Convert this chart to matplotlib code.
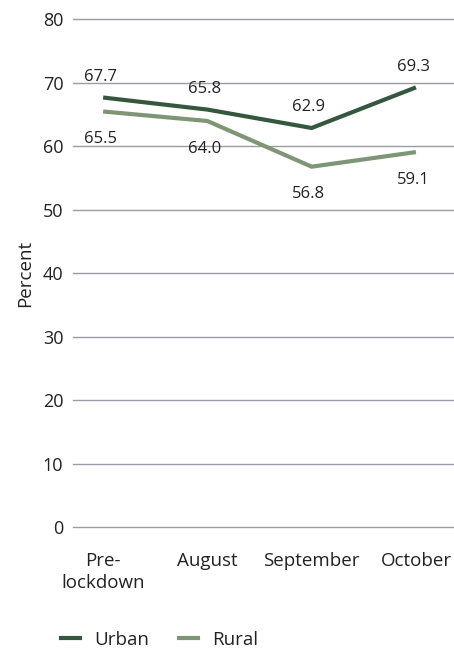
import matplotlib
matplotlib.use("Agg")
import matplotlib.pyplot as plt
from matplotlib.lines import Line2D

categories = ["Pre-\nlockdown", "August", "September", "October"]
urban = [67.7, 65.8, 62.9, 69.3]
rural = [65.5, 64.0, 56.8, 59.1]
yticks = [0, 10, 20, 30, 40, 50, 60, 70, 80]

plt.rcParams['font.family'] = ['Open Sans', 'DejaVu Sans']
urban_c = "#36573f"
rural_c = "#7f9676"
text_c = "#222222"
fs = 13.5
fs_lab = 12

fig = plt.figure(figsize=(4.54, 6.52), dpi=100)
ax = fig.add_axes([0.161, 0.1917, 0.839, 0.7784])
x = list(range(len(categories)))
ax.plot(x, urban, color=urban_c, lw=3.0, solid_joinstyle='miter', solid_capstyle='butt', zorder=3)
ax.plot(x, rural, color=rural_c, lw=3.0, solid_joinstyle='miter', solid_capstyle='butt', zorder=3)

for xi, v in zip(x, urban):
    ax.annotate(f"{v:.1f}", (xi, v), xytext=(-2, 15), textcoords='offset points',
                ha='center', va='center', fontsize=fs_lab, color=text_c)
for xi, v in zip(x, rural):
    ax.annotate(f"{v:.1f}", (xi, v), xytext=(-2, -20), textcoords='offset points',
                ha='center', va='center', fontsize=fs_lab, color=text_c)

ax.set_ylim(0, 80)
ax.set_xlim(-0.288, 3.365)
ax.set_yticks(yticks)
ax.set_yticklabels([str(t) for t in yticks], fontsize=13, color=text_c)
ax.set_xticks(x)
ax.set_xticklabels(categories, fontsize=fs, color=text_c, linespacing=1.3)
ax.tick_params(axis='y', length=0, pad=7)
ax.tick_params(axis='x', length=0, pad=18)
ax.grid(axis='y', color="#9b9ba3", lw=1.0)
for gl in ax.get_ygridlines():
    gl.set_clip_on(False)
ax.set_axisbelow(True)
for s in ax.spines.values():
    s.set_visible(False)
ax.set_ylabel("Percent", fontsize=fs, color=text_c, labelpad=6)

handles = [Line2D([0], [0], color=urban_c, lw=3.0),
           Line2D([0], [0], color=rural_c, lw=3.0)]
fig.legend(handles, ["Urban", "Rural"], loc='center left', bbox_to_anchor=(0.098, 0.019),
           ncol=2, frameon=False, fontsize=fs, handlelength=1.0, handletextpad=0.75,
           columnspacing=1.6, labelcolor=text_c)

fig.savefig("out.png", dpi=100)
